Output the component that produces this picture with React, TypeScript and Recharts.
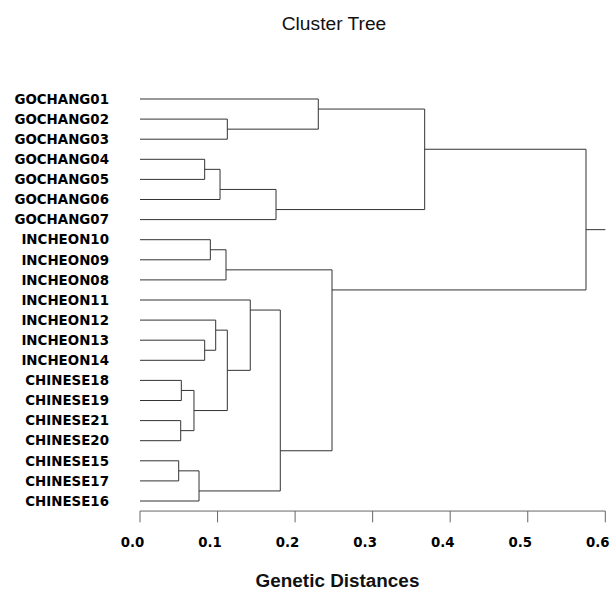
import { ScatterChart, Scatter, XAxis, YAxis } from "recharts";

// leaves, top to bottom as drawn
const leafLabels = [
  "GOCHANG01", "GOCHANG02", "GOCHANG03", "GOCHANG04", "GOCHANG05", "GOCHANG06", "GOCHANG07",
  "INCHEON10", "INCHEON09", "INCHEON08", "INCHEON11", "INCHEON12", "INCHEON13", "INCHEON14",
  "CHINESE18", "CHINESE19", "CHINESE21", "CHINESE20", "CHINESE15", "CHINESE17", "CHINESE16",
];

// hclust-style merges: negative = leaf (1-based), positive = earlier merge row (1-based)
const mergePairs: [number, number][] = [
  [-2, -3], [-1, 1], [-4, -5], [3, -6], [4, -7], [2, 5],
  [-8, -9], [7, -10], [-13, -14], [-12, 9], [-15, -16], [-17, -18],
  [11, 12], [10, 13], [-11, 14], [-19, -20], [16, -21], [15, 17],
  [8, 18], [6, 19],
];

const mergeHeights = [
  0.1126, 0.2299, 0.0834, 0.1032, 0.1754, 0.3671,
  0.0907, 0.1109, 0.0834, 0.0976, 0.0533, 0.0525,
  0.0696, 0.1126, 0.1422, 0.0499, 0.0761, 0.1809,
  0.2476, 0.5751,
];

const distanceTicks = [0, 0.1, 0.2, 0.3, 0.4, 0.5, 0.6];
const rootStubEnd = 0.6;

type Pt = { x: number; y: number };
type Node = { h: number; y: number; first: number; last: number };

function buildSegments(): Pt[][] {
  const nodes: Node[] = [];
  const get = (ref: number): Node => {
    if (ref < 0) {
      const i = -ref - 1;
      return { h: 0, y: i, first: i, last: i };
    }
    return nodes[ref - 1];
  };
  const segs = mergePairs.map(([a, b], i) => {
    const l = get(a);
    const r = get(b);
    const h = mergeHeights[i];
    nodes.push({ h, y: (l.last + r.first) / 2, first: l.first, last: r.last });
    return [
      { x: l.h, y: l.y },
      { x: h, y: l.y },
      { x: h, y: r.y },
      { x: r.h, y: r.y },
    ];
  });
  const root = nodes[nodes.length - 1];
  segs.push([
    { x: root.h, y: root.y },
    { x: rootStubEnd, y: root.y },
  ]);
  return segs;
}

const segments = buildSegments();
const leafTicks = leafLabels.map((_, i) => i);

const boldSans = "'DejaVu Sans', Verdana, sans-serif";
const arial = "'Liberation Sans', Arial, sans-serif";

// tick labels in the original sit a little left of their ticks
const DistanceTick = (props: any) => (
  <text
    x={props.x - 7.5}
    y={props.y}
    dy="0.71em"
    textAnchor="middle"
    fill="#000"
    fontFamily={boldSans}
    fontWeight="bold"
    fontSize={13.3}
  >
    {Number(props.payload.value).toFixed(1)}
  </text>
);

export default function App() {
  return (
    <div style={{ width: 611, height: 592, background: "#fff" }}>
      <style>{"body{margin:0}"}</style>
      <ScatterChart width={611} height={592} margin={{ top: 88.95, right: 5.7, bottom: 0, left: 0 }}>
        <XAxis
          type="number"
          dataKey="x"
          domain={[0, 0.6]}
          ticks={distanceTicks}
          interval={0}
          height={80.95}
          stroke="#666"
          tickSize={11.3}
          tickMargin={15.6}
          tick={DistanceTick}
        />
        <YAxis
          type="number"
          dataKey="y"
          domain={[-0.5, 20.5]}
          reversed
          ticks={leafTicks}
          interval={0}
          width={140}
          axisLine={false}
          tickLine={false}
          tickSize={0}
          tickMargin={31}
          tickFormatter={(v: number) => leafLabels[v] ?? ""}
          tick={{ fill: "#000", fontFamily: boldSans, fontWeight: "bold", fontSize: 13.4 }}
        />
        {segments.map((seg, i) => (
          <Scatter
            key={i}
            data={seg}
            line={{ stroke: "#333", strokeWidth: 1 }}
            shape={() => <g />}
            isAnimationActive={false}
          />
        ))}
        <text x={334} y={30} textAnchor="middle" fontFamily={arial} fontSize={19.2} fill="#111">
          Cluster Tree
        </text>
        <text x={337.5} y={587.3} textAnchor="middle" fontFamily={arial} fontWeight="bold" fontSize={18.9} fill="#111">
          Genetic Distances
        </text>
      </ScatterChart>
    </div>
  );
}
